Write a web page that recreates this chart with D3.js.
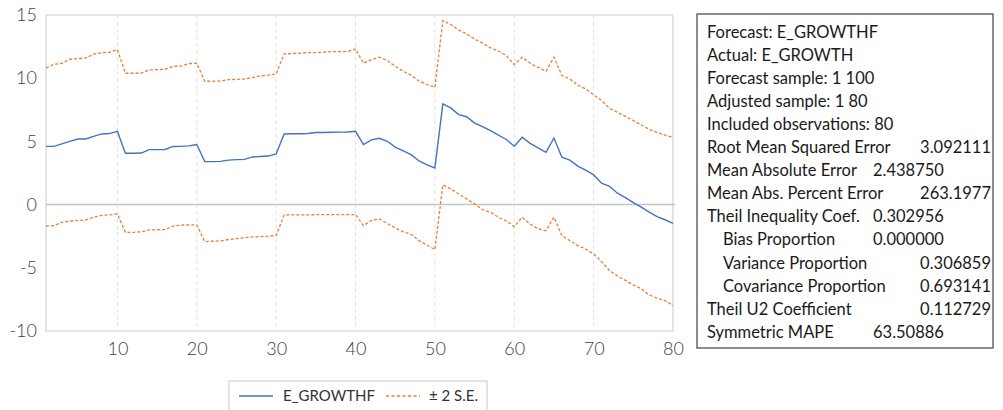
<!DOCTYPE html>
<html>
<head>
<meta charset="utf-8">
<script src="https://cdn.jsdelivr.net/npm/d3@7"></script>
<style>
  body { margin: 0; background: #fff; }
  svg { font-family: Lato, "Open Sans", sans-serif; }
</style>
</head>
<body>
<svg id="chart" width="1003" height="410"></svg>
<script>
// periods 1..80
var periods = d3.range(1, 81)

// E_GROWTHF (forecast)
var forecast = [
  4.61, 4.61, 4.80, 5.00, 5.19, 5.19, 5.40, 5.59, 5.62, 5.80,
  4.06, 4.06, 4.08, 4.35, 4.35, 4.36, 4.60, 4.61, 4.65, 4.75,
  3.40, 3.40, 3.42, 3.52, 3.56, 3.58, 3.77, 3.80, 3.84, 4.01,
  5.59, 5.60, 5.61, 5.63, 5.70, 5.71, 5.72, 5.73, 5.74, 5.80,
  4.75, 5.12, 5.25, 5.01, 4.55, 4.25, 3.95, 3.45, 3.15, 2.90,
  7.97, 7.65, 7.12, 6.95, 6.45, 6.17, 5.85, 5.50, 5.15, 4.61,
  5.33, 4.85, 4.48, 4.14, 5.27, 3.75, 3.52, 3.05, 2.72, 2.35,
  1.70, 1.45, 0.90, 0.55, 0.15, -0.20, -0.60, -0.95, -1.20, -1.48
]

// +2 S.E.
var upper = [
  10.79, 11.10, 11.18, 11.50, 11.55, 11.60, 11.90, 12.02, 12.05, 12.26,
  10.39, 10.39, 10.40, 10.65, 10.68, 10.70, 10.94, 10.95, 11.15, 11.18,
  9.76, 9.76, 9.78, 9.88, 9.91, 9.93, 10.05, 10.18, 10.25, 10.34,
  11.92, 11.95, 11.97, 12.03, 12.03, 12.06, 12.10, 12.10, 12.12, 12.31,
  11.18, 11.47, 11.66, 11.39, 10.95, 10.55, 10.25, 9.78, 9.50, 9.28,
  14.56, 14.25, 13.82, 13.50, 13.10, 12.78, 12.40, 12.15, 11.80, 11.08,
  11.66, 11.18, 10.86, 10.55, 11.66, 10.21, 9.94, 9.45, 9.15, 8.68,
  8.23, 7.62, 7.30, 6.98, 6.65, 6.30, 5.95, 5.70, 5.50, 5.33
]

// -2 S.E.
var lower = [
  -1.71, -1.66, -1.40, -1.30, -1.25, -1.22, -1.00, -0.85, -0.82, -0.74,
  -2.19, -2.19, -2.15, -2.00, -1.99, -1.98, -1.70, -1.62, -1.61, -1.61,
  -2.93, -2.90, -2.87, -2.76, -2.70, -2.62, -2.56, -2.53, -2.50, -2.45,
  -0.82, -0.82, -0.81, -0.81, -0.80, -0.80, -0.79, -0.79, -0.79, -0.79,
  -1.66, -1.25, -1.13, -1.50, -1.85, -2.15, -2.35, -2.85, -3.20, -3.56,
  1.56, 1.24, 0.84, 0.45, 0.05, -0.40, -0.61, -1.00, -1.30, -1.74,
  -1.00, -1.53, -1.92, -2.06, -1.00, -2.45, -2.85, -3.24, -3.51, -3.90,
  -4.51, -5.22, -5.65, -6.00, -6.35, -6.65, -7.15, -7.40, -7.60, -7.99
]

var xTicks = [10, 20, 30, 40, 50, 60, 70, 80]
var yTicks = [15, 10, 5, 0, -5, -10]

// forecast evaluation table
var statLabels = [
  "Forecast: E_GROWTHF", "Actual: E_GROWTH", "Forecast sample: 1 100",
  "Adjusted sample: 1 80", "Included observations: 80",
  "Root Mean Squared Error", "Mean Absolute Error", "Mean Abs. Percent Error",
  "Theil Inequality Coef.", "Bias Proportion", "Variance Proportion",
  "Covariance Proportion", "Theil U2 Coefficient", "Symmetric MAPE"
]
var statValues = ["", "", "", "", "", "3.092111", "2.438750", "263.1977",
  "0.302956", "0.000000", "0.306859", "0.693141", "0.112729", "63.50886"]
var statIndent = [0, 0, 0, 0, 0, 0, 0, 0, 0, 1, 1, 1, 0, 0]
// "s" = value starts at tab stop, "e" = value ends at right edge
var statAlign = ["", "", "", "", "", "e", "s", "e", "s", "s", "e", "e", "e", "s"]

var svg = d3.select("#chart")

var plotLeft = 46, plotRight = 673, plotTop = 15, plotBottom = 331

var x = d3.scaleLinear().domain([1, 80]).range([plotLeft, plotRight])
var y = d3.scaleLinear().domain([-10, 15]).range([plotBottom, plotTop])

// frame
svg.append("rect")
  .attr("x", plotLeft).attr("y", plotTop)
  .attr("width", plotRight - plotLeft).attr("height", plotBottom - plotTop)
  .attr("fill", "none")
  .attr("stroke", "#d4d4d4")
  .attr("stroke-width", 1.2)

// vertical dashed grid
svg.append("g")
  .selectAll("line")
  .data(xTicks.filter(function(d) { return d < 80 }))
  .enter()
  .append("line")
  .attr("x1", function(d) { return x(d) })
  .attr("x2", function(d) { return x(d) })
  .attr("y1", plotTop)
  .attr("y2", plotBottom)
  .attr("stroke", "#e2e2e2")
  .attr("stroke-width", 1)
  .attr("stroke-dasharray", "4,3")

// zero line
svg.append("line")
  .attr("x1", plotLeft).attr("x2", plotRight + 2)
  .attr("y1", y(0)).attr("y2", y(0))
  .attr("stroke", "#c4c4c4")
  .attr("stroke-width", 1.5)

var yAxis = d3.axisLeft(y)
  .tickValues(yTicks)
  .tickSize(0)
  .tickPadding(9)
  .tickFormat(function(d) { return String(d) })
svg.append("g")
  .attr("class", "axis y-axis")
  .attr("transform", "translate(" + plotLeft + ",0)")
  .call(yAxis)

var xAxis = d3.axisBottom(x)
  .tickValues(xTicks)
  .tickSize(0)
  .tickPadding(11)
svg.append("g")
  .attr("class", "axis x-axis")
  .attr("transform", "translate(0," + plotBottom + ")")
  .call(xAxis)

svg.selectAll(".axis .domain").remove()
svg.selectAll(".axis text")
  .attr("font-size", 18)
  .attr("font-weight", 300)
  .attr("fill", "#404040")
  .style("font-family", "Lato, sans-serif")

var line = d3.line()
  .x(function(d, i) { return x(periods[i]) })
  .y(function(d) { return y(d) })

svg.append("path")
  .datum(upper)
  .attr("d", line)
  .attr("fill", "none")
  .attr("stroke", "#ED7D31")
  .attr("stroke-width", 1.3)
  .attr("stroke-dasharray", "3,2")

svg.append("path")
  .datum(lower)
  .attr("d", line)
  .attr("fill", "none")
  .attr("stroke", "#ED7D31")
  .attr("stroke-width", 1.3)
  .attr("stroke-dasharray", "3,2")

svg.append("path")
  .datum(forecast)
  .attr("d", line)
  .attr("fill", "none")
  .attr("stroke", "#4472C4")
  .attr("stroke-width", 1.4)

// legend
var legend = svg.append("g")
legend.append("rect")
  .attr("x", 229).attr("y", 381)
  .attr("width", 258).attr("height", 40)
  .attr("fill", "#fff")
  .attr("stroke", "#c8c8c8")
legend.append("line")
  .attr("x1", 239).attr("x2", 273).attr("y1", 396).attr("y2", 396)
  .attr("stroke", "#4472C4").attr("stroke-width", 1.3)
legend.append("text")
  .attr("x", 283).attr("y", 401)
  .attr("font-size", 15)
  .attr("fill", "#333")
  .text("E_GROWTHF")
legend.append("line")
  .attr("x1", 386).attr("x2", 420).attr("y1", 396).attr("y2", 396)
  .attr("stroke", "#ED7D31").attr("stroke-width", 1.3)
  .attr("stroke-dasharray", "3,2.5")
legend.append("text")
  .attr("x", 429).attr("y", 401)
  .attr("font-size", 15)
  .attr("fill", "#333")
  .text("\u00b1 2 S.E.")

// stats box
var box = svg.append("g")
box.append("rect")
  .attr("x", 697).attr("y", 14)
  .attr("width", 296).attr("height", 334)
  .attr("fill", "#fff")
  .attr("stroke", "#404040")
  .attr("stroke-width", 1.2)

var rows = box.selectAll("g.row")
  .data(statLabels)
  .enter()
  .append("g")
  .attr("class", "row")
  .attr("transform", function(d, i) { return "translate(0," + (37.5 + i * 23.1) + ")" })

rows.append("text")
  .attr("x", function(d, i) { return 707 + statIndent[i] * 16 })
  .attr("font-size", 16.5)
  .attr("fill", "#1a1a1a")
  .text(function(d) { return d })

rows.append("text")
  .attr("x", function(d, i) { return statAlign[i] === "e" ? 991 : 873 })
  .attr("text-anchor", function(d, i) { return statAlign[i] === "e" ? "end" : "start" })
  .attr("font-size", 16.5)
  .attr("fill", "#1a1a1a")
  .text(function(d, i) { return statValues[i] })
</script>
</body>
</html>
